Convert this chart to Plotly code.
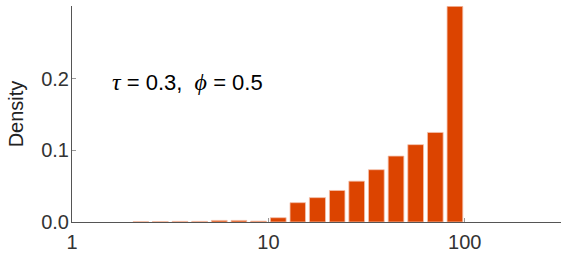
import numpy as np
import plotly.graph_objects as go

# Bin edges (real units, 10 log-spaced bins per decade) and densities
bin_lower = [2.0, 2.51, 3.16, 3.98, 5.01, 6.31, 7.94, 10.0, 12.6, 15.8, 20.0, 25.1, 31.6, 39.8, 50.1, 63.1, 79.4]
bin_upper = [2.51, 3.16, 3.98, 5.01, 6.31, 7.94, 10.0, 12.6, 15.8, 20.0, 25.1, 31.6, 39.8, 50.1, 63.1, 79.4, 100.0]
density = [0.0005, 0.0007, 0.0009, 0.0009, 0.0022, 0.0022, 0.0012,
           0.006, 0.027, 0.034, 0.044, 0.057, 0.073, 0.092, 0.108, 0.125, 0.301]

x_tick_values = [1, 10, 100]
x_tick_labels = ["1", "10", "100"]
y_tick_values = [0.0, 0.1, 0.2]
y_tick_labels = ["0.0", "0.1", "0.2"]

lo = np.log10(bin_lower)
hi = np.log10(bin_upper)
centers = (lo + hi) / 2
widths = (hi - lo) * 0.8

FONT = "Liberation Sans, Arial, sans-serif"

fig = go.Figure()
fig.add_trace(go.Bar(
    x=centers, y=density, width=widths,
    marker=dict(color="#DC4400", line=dict(color="#F4C2AC", width=0.8)),
    hoverinfo="skip",
))

GREEK = "<span style='font-family:Liberation Serif;font-size:24px'><i>{}</i></span>"

fig.update_layout(
    width=561, height=259,
    margin=dict(l=72, r=0, t=6, b=37),
    paper_bgcolor="white", plot_bgcolor="white",
    showlegend=False,
    font=dict(family=FONT, size=20, color="#333333"),
    xaxis=dict(
        range=[0, 2.49],
        tickmode="array",
        tickvals=np.log10(x_tick_values),
        ticktext=x_tick_labels,
        ticks="inside", ticklen=4, tickcolor="#999999", tickwidth=1,
        showline=True, linecolor="#555555", linewidth=1,
        showgrid=False, zeroline=False,
        tickfont=dict(size=20, color="#333333"),
        ticklabelstandoff=2,
    ),
    yaxis=dict(
        range=[0, 0.3015],
        tickmode="array",
        tickvals=y_tick_values,
        ticktext=y_tick_labels,
        ticks="inside", ticklen=4, tickcolor="#999999", tickwidth=1,
        showline=True, linecolor="#555555", linewidth=1,
        showgrid=False, zeroline=False,
        tickfont=dict(size=20, color="#333333"),
        ticklabelstandoff=-2,
        title=dict(text="Density", font=dict(size=20, color="#222222"), standoff=12),
    ),
    annotations=[dict(
        x=0.196, y=0.196, xref="x", yref="y",
        xanchor="left", yanchor="middle", showarrow=False,
        text=(GREEK.format("τ") + "&nbsp;=&nbsp;0.3,&nbsp;&nbsp;"
              + GREEK.format("ϕ") + "&nbsp;=&nbsp;0.5"),
        font=dict(family=FONT, size=22, color="#000000"),
    )],
)

fig.write_html("out.html", config={"displayModeBar": False},
               post_script="document.body.style.margin='0';")
